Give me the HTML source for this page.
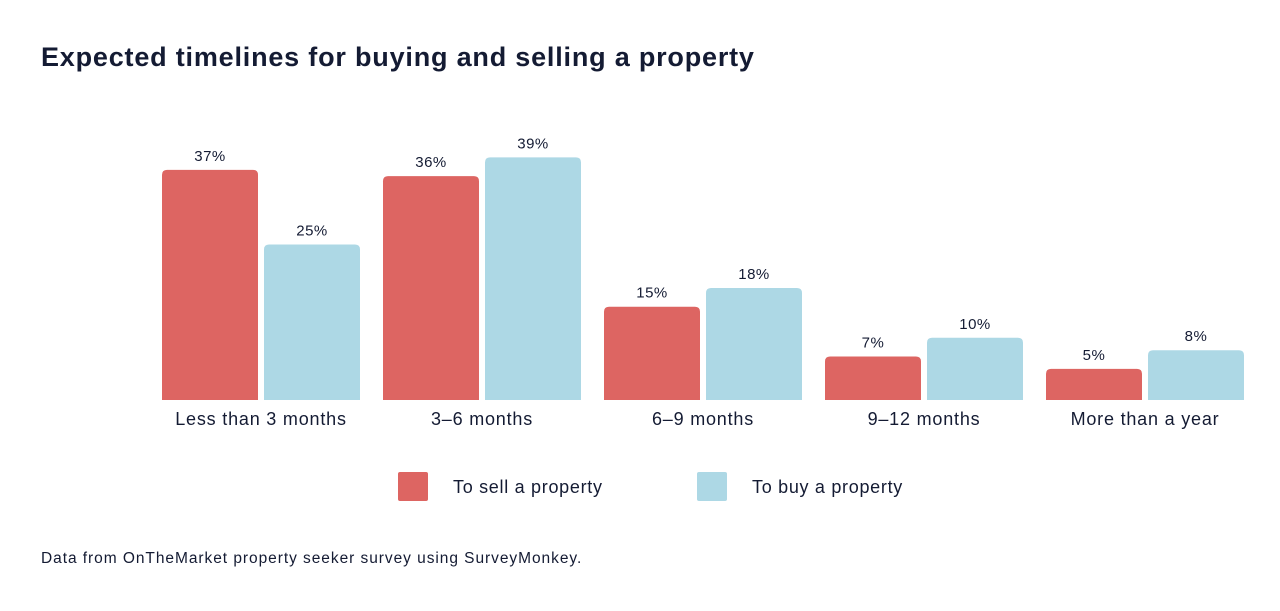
<!DOCTYPE html>
<html><head><meta charset="utf-8"><style>
body{margin:0;width:1280px;height:611px;background:#fff;font-family:"Liberation Sans",sans-serif;color:#141b33;overflow:hidden}
#title{position:absolute;left:41px;top:42px;font-size:27px;font-weight:bold;letter-spacing:0.8px}
#src{position:absolute;left:41px;top:550px;font-size:15.5px;letter-spacing:0.95px}
svg{position:absolute;left:0;top:0}
</style></head><body>
<div id="title">Expected timelines for buying and selling a property</div>
<svg id="chart" width="1280" height="611"></svg>
<div id="src">Data from OnTheMarket property seeker survey using SurveyMonkey.</div>
<script>
const categories=["Less than 3 months","3–6 months","6–9 months","9–12 months","More than a year"];
const sellValues=[37,36,15,7,5];
const buyValues=[25,39,18,10,8];
const seriesNames=["To sell a property","To buy a property"];
const NS="http://www.w3.org/2000/svg";
const svg=document.getElementById('chart');
const baseY=400,pxPer=6.22,x0=162,step=221,bw=96,gap=6;
const y=v=>baseY-v*pxPer;
const xs=(i,s)=>x0+i*step+s*(bw+gap);
const colors=["#dd6562","#add8e5"];
function mk(t,a){const e=document.createElementNS(NS,t);for(const k in a)e.setAttribute(k,a[k]);svg.appendChild(e);return e;}
function barPath(x,t,w,h,r){return `M${x},${t+h}V${t+r}Q${x},${t} ${x+r},${t}H${x+w-r}Q${x+w},${t} ${x+w},${t+r}V${t+h}Z`;}
[sellValues,buyValues].forEach((vals,s)=>{
  vals.forEach((v,i)=>{
    const x=xs(i,s),top=y(v);
    const b=mk('path',{d:barPath(x,top,bw,baseY-top,5),fill:colors[s]});
    
    
    const t=mk('text',{x:x+bw/2,y:top-9,'text-anchor':'middle','font-size':15,'letter-spacing':0.5,fill:'#141b33','font-family':'Liberation Sans'});
    t.textContent=v+'%';
    
    
  });
});
categories.forEach((c,i)=>{
  const t=mk('text',{x:xs(i,0)+bw+gap/2,y:425,'text-anchor':'middle','font-size':18,'letter-spacing':0.8,fill:'#141b33','font-family':'Liberation Sans'});
  t.textContent=c;
  
  
});
const legX=[398,697];
seriesNames.forEach((n,s)=>{
  const r=mk('rect',{x:legX[s],y:472,width:30,height:29,fill:colors[s],rx:2});
  
  
  const t=mk('text',{x:legX[s]+55,y:493,'font-size':18,'letter-spacing':0.7,fill:'#141b33','font-family':'Liberation Sans'});
  t.textContent=n;
  
  
});
</script>
</body></html>
